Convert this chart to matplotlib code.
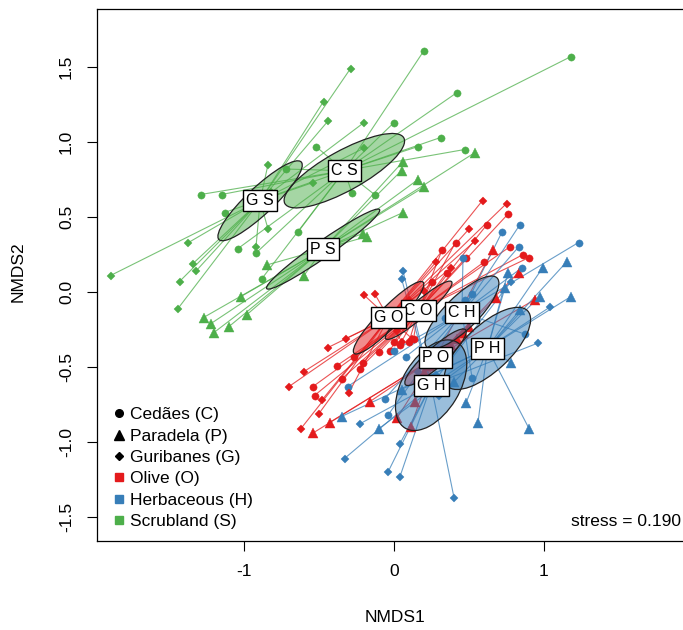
import numpy as np
import matplotlib
matplotlib.use("Agg")
import matplotlib.pyplot as plt
from matplotlib.patches import Ellipse
from matplotlib.lines import Line2D

plt.rcParams['font.family'] = ['Liberation Sans', 'DejaVu Sans']

# ---------------- data (NMDS scores) ----------------
CS_x = [0.20, 1.18, 0.42, 0.00, 0.31, 0.16, 0.47, -0.52, -0.28, -0.13, -0.72, -1.29, -1.15, -1.13, -0.64, -1.04, -0.92, -0.88]
CS_y = [1.61, 1.57, 1.33, 1.13, 1.03, 0.97, 0.95, 0.97, 0.66, 0.65, 0.82, 0.65, 0.65, 0.53, 0.40, 0.29, 0.26, 0.09]

GS_x = [-0.29, -0.47, -0.44, -0.20, -0.20, -0.84, -0.54, -0.84, -1.37, -1.89, -0.92, -1.34, -1.32, -1.43, -1.44,
        -0.84, -0.82, -0.88]
GS_y = [1.49, 1.27, 1.14, 1.13, 0.96, 0.85, 0.73, 0.42, 0.33, 0.11, 0.30, 0.19, 0.14, 0.07, -0.11,
        0.65, 0.67, 0.61]

PS_x = [0.54, 0.06, 0.05, 0.16, 0.20, 0.06, -0.21, -0.18, -0.60, -0.85, -1.02, -1.27, -1.22, -1.20, -1.10, -0.98]
PS_y = [0.93, 0.87, 0.81, 0.75, 0.70, 0.53, 0.39, 0.37, 0.11, 0.18, -0.03, -0.17, -0.21, -0.27, -0.23, -0.15]

CO_x = [0.76, 0.62, 0.41, 0.32, 0.77, 0.86, 0.90, 0.60, 0.48, 0.35, 0.25, -0.38, -0.27, -0.21, -0.23, -0.35, -0.54, -0.53, 0.00, 0.13,
        -0.10, -0.03, 0.04, 0.10]
CO_y = [0.52, 0.45, 0.33, 0.28, 0.30, 0.25, 0.23, 0.20, 0.23, 0.13, 0.07, -0.49, -0.43, -0.47, -0.51, -0.58, -0.63, -0.69, -0.33, -0.31,
        -0.40, -0.39, -0.35, -0.33]

GO_x = [0.59, 0.75, 0.50, 0.54, 0.28, 0.38, 0.20, 0.10, -0.32, -0.44, -0.60, -0.70, -0.48, -0.50, -0.62, -0.30,
        0.12, -0.20, 0.05, -0.13, 0.02]
GO_y = [0.61, 0.59, 0.42, 0.34, 0.20, 0.16, 0.01, -0.05, -0.31, -0.37, -0.53, -0.63, -0.72, -0.81, -0.91, -0.67,
        -0.31, -0.02, -0.33, -0.01, -0.26]

PO_x = [0.66, 0.83, 0.68, 0.94, -0.43, -0.54, -0.16, 0.02, 0.11, 0.14,
        0.16, 0.20, 0.24, 0.28, 0.31, 0.34, 0.38, 0.42, 0.46, 0.50]
PO_y = [0.28, 0.13, -0.04, -0.05, -0.87, -0.94, -0.73, -0.84, -0.90, -0.73,
        -0.57, -0.53, -0.49, -0.45, -0.42, -0.39, -0.35, -0.31, -0.27, -0.23]

CH_x = [0.84, 0.72, 0.83, 1.23, 0.46, 0.85, 0.87, 0.00, 0.08, -0.31, -0.06, -0.04, 0.52, 0.34, 0.38, 0.47, 0.52]
CH_y = [0.45, 0.40, 0.30, 0.33, 0.23, 0.16, -0.28, -0.39, -0.43, -0.63, -0.71, -0.82, -0.57, -0.17, -0.13, -0.05, -0.01]

PH_x = [1.15, 0.99, 0.76, 1.18, 0.97, 0.78, 0.48, 0.56, 0.90, -0.35, -0.10, 0.05, 0.40, 0.74, 0.84]
PH_y = [0.20, 0.16, 0.13, -0.03, -0.03, -0.47, -0.74, -0.87, -0.91, -0.83, -0.91, -0.65, -0.60, 0.03, -0.12]

GH_x = [0.06, 0.05, 0.96, 1.04, 0.40, 0.04, -0.04, -0.33, 0.04, -0.23, 0.78, 0.16, 0.20, 0.25, 0.30, 0.28]
GH_y = [0.14, 0.09, -0.34, -0.10, -1.37, -1.23, -1.20, -1.11, -1.01, -0.88, 0.07, -0.53, -0.59, -0.64, -0.69, -0.55]

site_names = ["Cedães (C)", "Paradela (P)", "Guribanes (G)"]
habitat_names = ["Olive (O)", "Herbaceous (H)", "Scrubland (S)"]
group_labels = ["C S", "G S", "P S", "C O", "P O", "G H", "C H", "P H", "G O"]
stress_value = 0.190
x_ticks = [-1, 0, 1]
x_ticklabels = ["-1", "0", "1"]
y_ticks = [-1.5, -1.0, -0.5, 0.0, 0.5, 1.0, 1.5]
y_ticklabels = ["-1.5", "-1.0", "-0.5", "0.0", "0.5", "1.0", "1.5"]

# ---------------- styles ----------------
hab_col = {"O": "#E41A1C", "H": "#377EB8", "S": "#4DAF4A"}
site_mark = {"C": ("o", 5.2), "P": ("^", 6.5), "G": ("D", 4.2)}

groups = [
    (group_labels[0], CS_x, CS_y, "C", "S"),
    (group_labels[1], GS_x, GS_y, "G", "S"),
    (group_labels[2], PS_x, PS_y, "P", "S"),
    (group_labels[3], CO_x, CO_y, "C", "O"),
    (group_labels[4], PO_x, PO_y, "P", "O"),
    (group_labels[5], GH_x, GH_y, "G", "H"),
    (group_labels[6], CH_x, CH_y, "C", "H"),
    (group_labels[7], PH_x, PH_y, "P", "H"),
    (group_labels[8], GO_x, GO_y, "G", "O"),
]

fig = plt.figure(figsize=(6.83, 6.30), dpi=100)
W, H = 683, 630
left, right, top, bottom = 97, 691, 9, 541
ax = fig.add_axes([left / W, 1 - bottom / H, (right - left) / W, (bottom - top) / H])
ax.set_xlim(-1.98, 1.98)
ax.set_ylim(-1.66, 1.887)

scale = np.sqrt(-2 * np.log(0.05))  # sqrt(qchisq(0.95, 2))

# spiders + points
for name, xs, ys, site, hab in groups:
    xs = np.asarray(xs); ys = np.asarray(ys)
    cx, cy = xs.mean(), ys.mean()
    col = hab_col[hab]
    for x, y in zip(xs, ys):
        ax.plot([cx, x], [cy, y], color=col, lw=0.8, alpha=0.75, zorder=1,
                solid_capstyle='butt')
    m, ms = site_mark[site]
    ax.plot(xs, ys, ls='none', marker=m, ms=ms, color=col, mec=col, mew=0.3, zorder=2)

# ellipses (standard error, 95 %)
for name, xs, ys, site, hab in groups:
    xs = np.asarray(xs); ys = np.asarray(ys)
    n = len(xs)
    cx, cy = xs.mean(), ys.mean()
    cov = np.cov(np.vstack([xs, ys])) / n
    vals, vecs = np.linalg.eigh(cov)
    order = vals.argsort()[::-1]
    vals, vecs = vals[order], vecs[:, order]
    ang = np.degrees(np.arctan2(vecs[1, 0], vecs[0, 0]))
    w_, h_ = 2 * scale * np.sqrt(vals[0]), 2 * scale * np.sqrt(vals[1])
    ax.add_patch(Ellipse((cx, cy), w_, h_, angle=ang, facecolor=hab_col[hab],
                         alpha=0.5, edgecolor='none', zorder=3))
    ax.add_patch(Ellipse((cx, cy), w_, h_, angle=ang, facecolor='none',
                         edgecolor='#222222', lw=0.9, zorder=3.1))

# group labels at centroids
for i, (name, xs, ys, site, hab) in enumerate(groups):
    cx, cy = np.mean(xs), np.mean(ys)
    ax.text(cx, cy, name, ha='center', va='center', fontsize=11.5, zorder=10 + i,
            bbox=dict(boxstyle='square,pad=0.2', fc='white', ec='black', lw=1.0))

# stress
ax.text(1.183, -1.527, f"stress = {stress_value:.3f}", ha='left', va='center', fontsize=12.5)

# legend
handles = []
for key in ["C", "P", "G"]:
    m, ms = site_mark[key]
    handles.append(Line2D([], [], ls='none', marker=m, ms=ms + 0.3, color='black'))
for key in ["O", "H", "S"]:
    handles.append(Line2D([], [], ls='none', marker='s', ms=6, color=hab_col[key]))
ax.legend(handles, site_names + habitat_names, loc='lower left', frameon=False,
          fontsize=12.5, labelspacing=0.36, handlelength=0.7, handletextpad=0.28,
          borderaxespad=0.0, bbox_to_anchor=(0.015, 0.009))

# axes cosmetics
ax.set_xticks(x_ticks)
ax.set_xticklabels(x_ticklabels)
ax.set_yticks(y_ticks)
ax.set_yticklabels(y_ticklabels, rotation=90, va='center')
ax.tick_params(direction='out', length=7.5, width=0.8, labelsize=12.5, pad=9, colors='black')
for s in ax.spines.values():
    s.set_linewidth(0.9)
    s.set_color('black')
ax.set_xlabel("NMDS1", fontsize=12.5)
ax.set_ylabel("NMDS2", fontsize=12.5)
ax.xaxis.set_label_coords((394.5 - left) / (right - left), -(618 - bottom) / (bottom - top))
ax.xaxis.label.set_va('center')
ax.yaxis.set_label_coords(-(left - 18) / (right - left), (bottom - 272) / (bottom - top))
ax.yaxis.label.set_va('center')

fig.savefig("out.png", dpi=100)
